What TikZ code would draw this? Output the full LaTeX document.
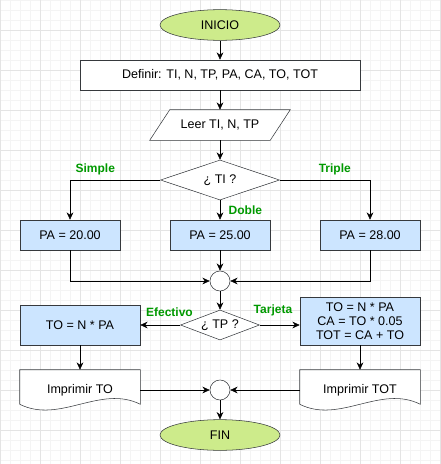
\documentclass[tikz,border=0pt]{standalone}
\usepackage{fontspec}
\setmainfont{Liberation Sans}
\usetikzlibrary{arrows.meta, positioning, shapes.geometric}

\definecolor{verdeini}{HTML}{CDEB8B}
\definecolor{azulproc}{HTML}{CCE5FF}
\definecolor{borde}{HTML}{36393D}
\definecolor{verdetxt}{HTML}{009900}
\definecolor{rejilla}{HTML}{E4E4E4}
\definecolor{rejillafina}{HTML}{F4F4F4}

\pgfdeclarelayer{fondo}
\pgfsetlayers{fondo,main}

\begin{document}
\begin{tikzpicture}[->, >={Stealth[length=5.5pt, width=5pt]}, thick, font=\fontsize{9.4}{10.5}\selectfont]

  % Estilos de los nodos
  \tikzstyle{terminal} = [ellipse, draw=borde, fill=verdeini, minimum width=90pt, minimum height=23pt, inner sep=0pt]
  \tikzstyle{caja} = [rectangle, draw=borde, fill=azulproc, minimum width=75pt, minimum height=22.5pt]
  \tikzstyle{entrada} = [rectangle, draw=none, minimum width=90pt, minimum height=22.5pt]
  \tikzstyle{decision} = [diamond, draw=borde, fill=white, aspect=3, inner sep=0pt]
  \tikzstyle{conector} = [circle, draw=borde, fill=white, minimum size=15pt, inner sep=0pt]
  \tikzstyle{documento} = [rectangle, draw=none, minimum width=90pt, minimum height=30pt]
  \tikzstyle{etiqueta} = [text=verdetxt, font=\fontsize{9}{10}\selectfont\bfseries]

  % Rejilla de fondo
  \useasboundingbox (0,0) rectangle (330pt,-348pt);
  \begin{pgfonlayer}{fondo}
    \draw[-, rejillafina, line width=0.5pt, step=7.5pt] (0,-348pt) grid (330pt,0);
    \draw[-, rejilla, line width=0.5pt, step=30pt, yshift=7.5pt] (0,-355.5pt) grid (330pt,-7.5pt);
  \end{pgfonlayer}

  % Nodos
  \node[terminal] (inicio) at (165pt,-18.75pt) {INICIO};
  \node[caja, fill=white, minimum width=210pt, node distance=37.5pt, below of=inicio] (definir) {Definir: TI, N, TP, PA, CA, TO, TOT};
  \node[entrada, node distance=37.5pt, below of=definir] (leer) {Leer TI, N, TP};
  \node[decision, minimum width=89.25pt, minimum height=30pt, node distance=41.25pt, below of=leer] (ti) {¿ TI ?};
  \node[caja, node distance=41.25pt, below of=ti] (pa2) {PA = 25.00};
  \node[caja, node distance=112.5pt, left of=pa2] (pa1) {PA = 20.00};
  \node[caja, node distance=112.5pt, right of=pa2] (pa3) {PA = 28.00};
  \node[conector, node distance=34.5pt, below of=pa2] (c1) {};
  \node[decision, aspect=2.6, minimum width=59.25pt, minimum height=22.5pt, node distance=33pt, below of=c1] (tp) {¿ TP ?};
  \node[caja, minimum width=90pt, minimum height=30pt, node distance=105pt, left of=tp] (to) {TO = N * PA};
  \node[caja, minimum width=90pt, minimum height=36pt, align=center, node distance=105pt, right of=tp, yshift=3pt] (tot) {TO = N * PA\\CA = TO * 0.05\\TOT = CA + TO};
  \node[conector, node distance=48.75pt, below of=tp] (c2) {};
  \node[documento, node distance=105pt, left of=c2] (imp1) {Imprimir TO};
  \node[documento, node distance=105pt, right of=c2] (imp2) {Imprimir TOT};
  \node[terminal, node distance=33.75pt, below of=c2] (fin) {FIN};

  % Contornos de entrada y documentos
  \begin{pgfonlayer}{fondo}
    \draw[-, draw=borde, fill=white] ([xshift=7.5pt]leer.north west) -- ([xshift=7.5pt]leer.north east)
      -- ([xshift=-7.5pt]leer.south east) -- ([xshift=-7.5pt]leer.south west) -- cycle;
    \draw[-, draw=borde, fill=white] (imp1.north west) -- (imp1.north east) -- ([yshift=4.5pt]imp1.south east)
      .. controls ([xshift=-30pt, yshift=19.5pt]imp1.south east) and ([xshift=30pt, yshift=-10.5pt]imp1.south west) .. ([yshift=4.5pt]imp1.south west) -- cycle;
    \draw[-, draw=borde, fill=white] (imp2.north west) -- (imp2.north east) -- ([yshift=4.5pt]imp2.south east)
      .. controls ([xshift=-30pt, yshift=19.5pt]imp2.south east) and ([xshift=30pt, yshift=-10.5pt]imp2.south west) .. ([yshift=4.5pt]imp2.south west) -- cycle;
  \end{pgfonlayer}

  % Flechas
  \draw (inicio) -- (definir);
  \draw (definir) -- (leer);
  \draw (leer) -- (ti);
  \draw (ti.west) -| node[pos=0.36, above, etiqueta] {Simple} (pa1.north);
  \draw (ti.east) -| node[pos=0.305, above, etiqueta] {Triple} (pa3.north);
  \draw (ti) -- node[midway, right=3pt, etiqueta] {Doble} (pa2);
  \draw (pa1.south) |- (c1.west);
  \draw (pa2) -- (c1);
  \draw (pa3.south) |- (c1.east);
  \draw (c1) -- (tp);
  \draw (tp.west) -- node[pos=0.27, above=3pt, etiqueta] {Efectivo} (to.east);
  \draw (tp.east) -- node[pos=0.33, above=3pt, etiqueta] {Tarjeta} (tp.east -| tot.west);
  \draw (to) -- (imp1);
  \draw (tot) -- (imp2);
  \draw (imp1.east) -- (c2.west);
  \draw (imp2.west) -- (c2.east);
  \draw (c2) -- (fin);

\end{tikzpicture}
\end{document}
